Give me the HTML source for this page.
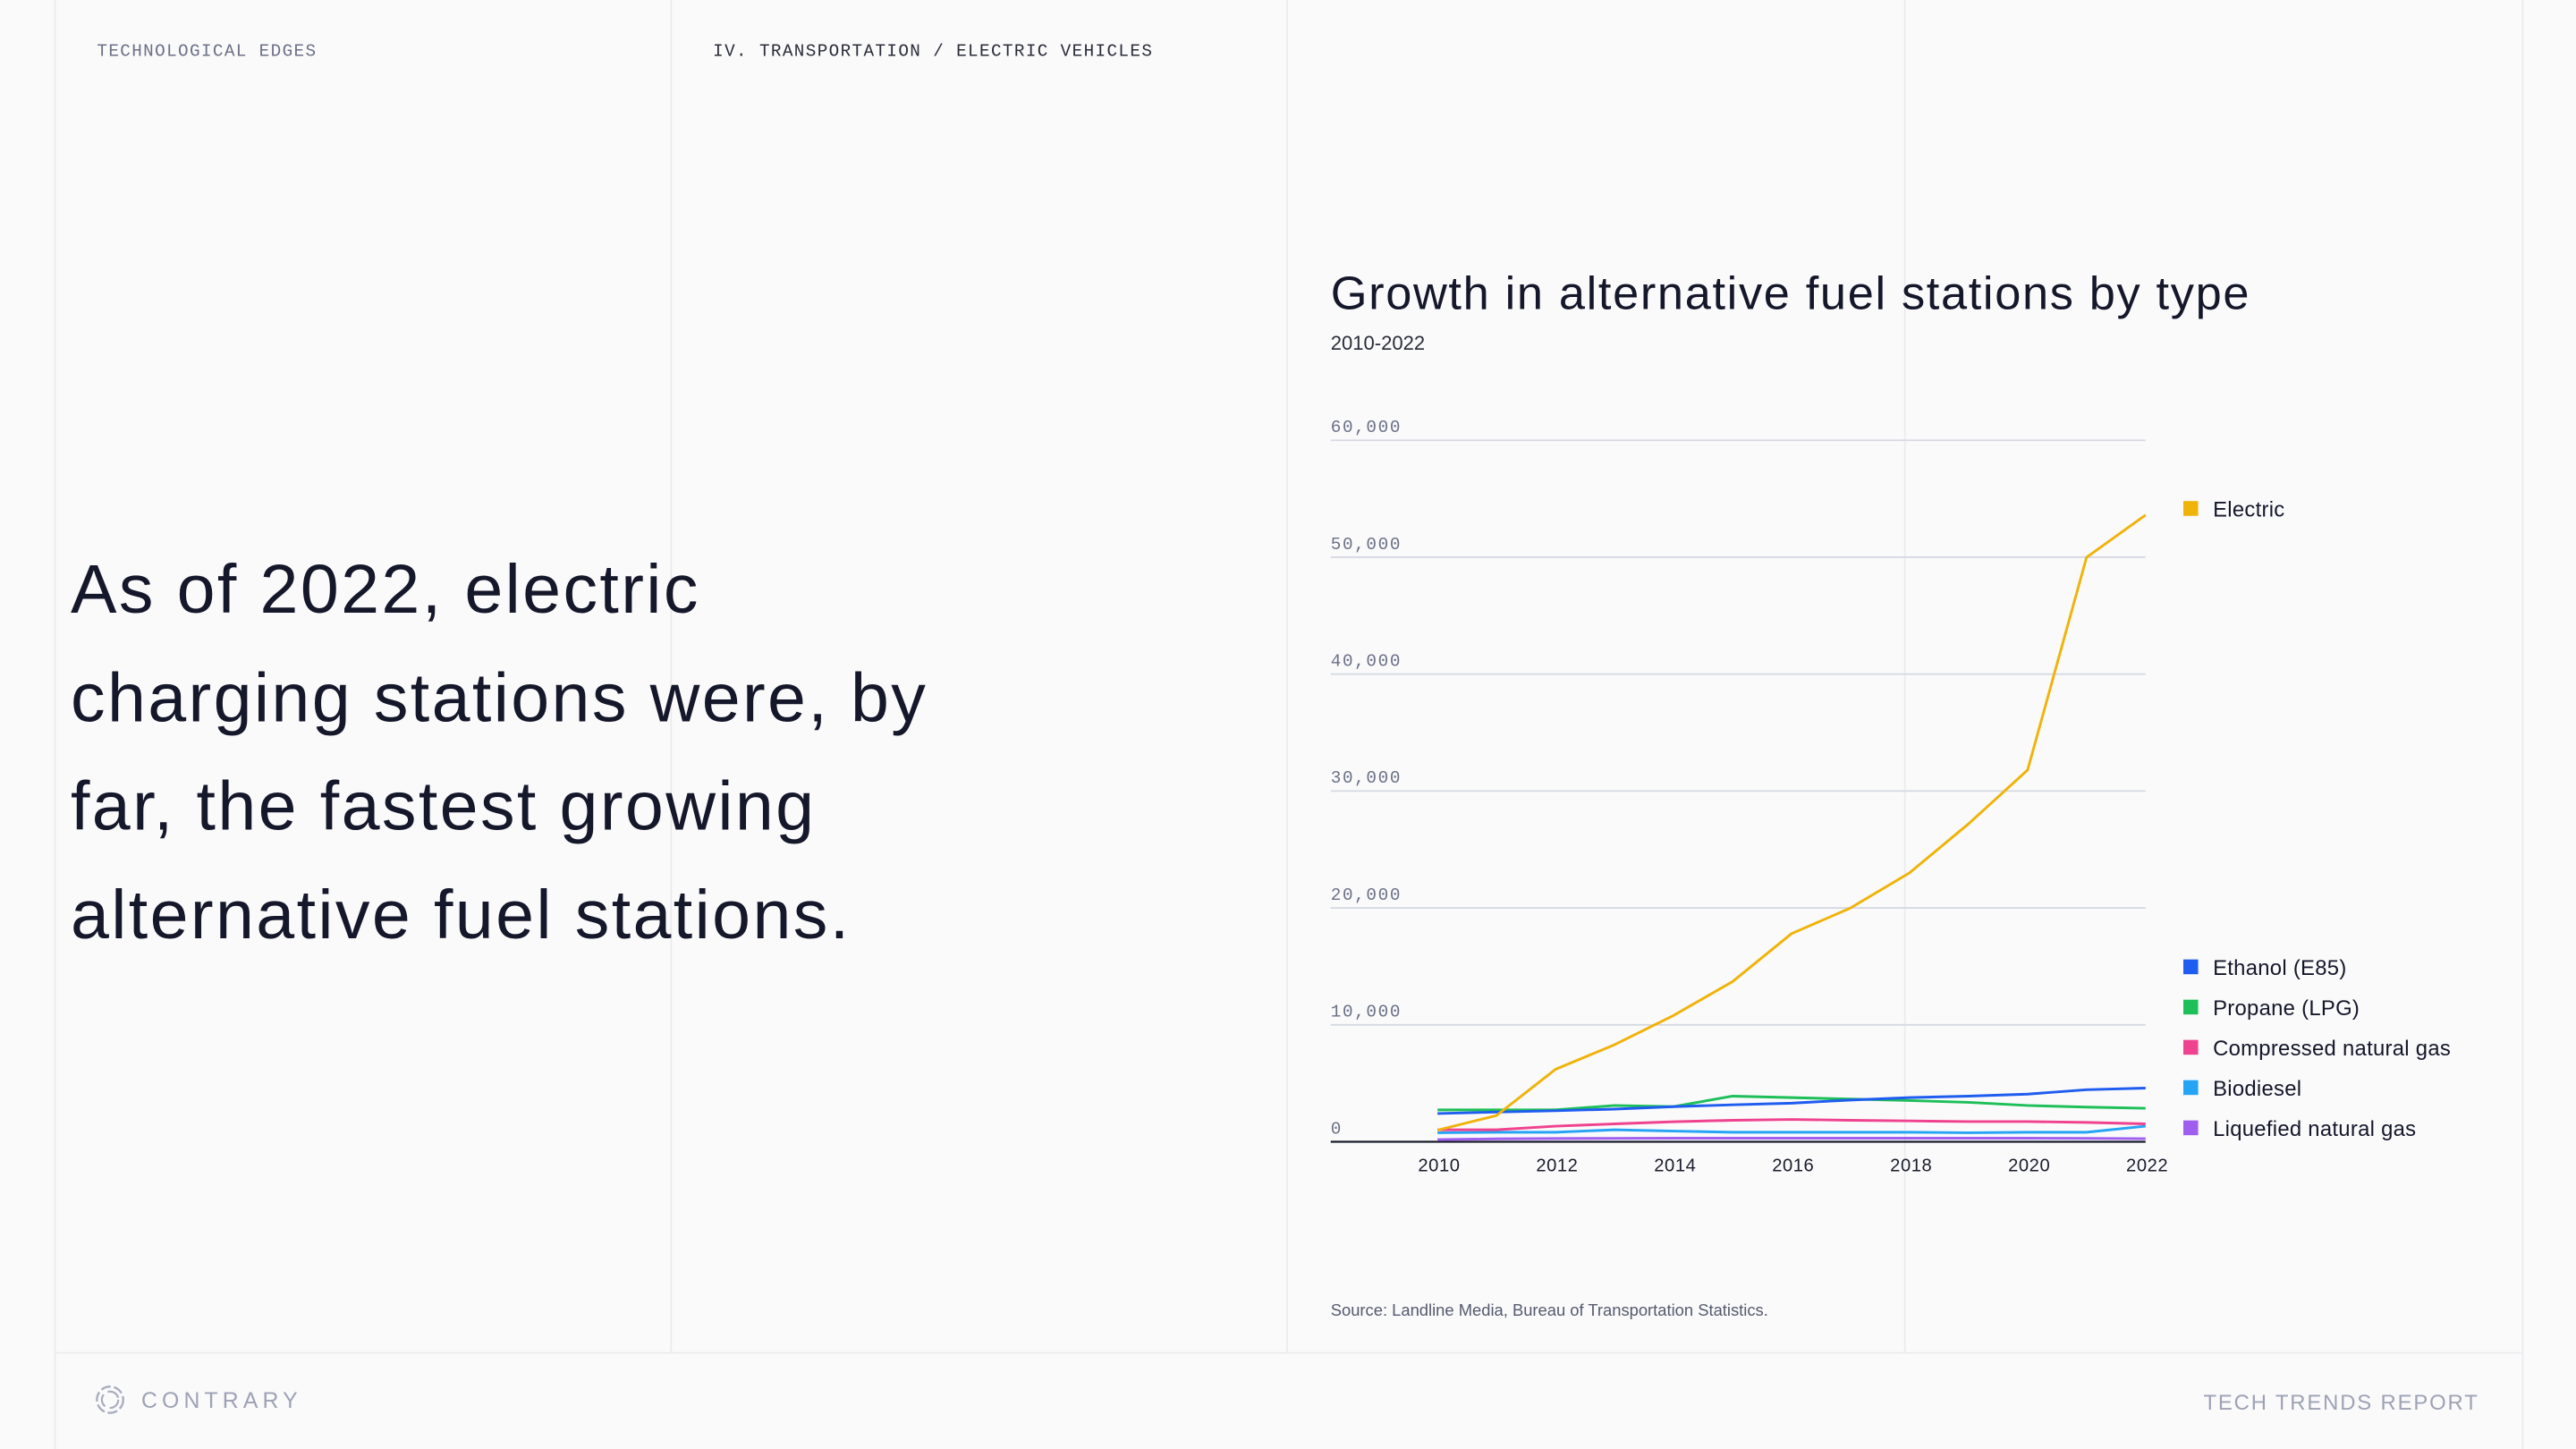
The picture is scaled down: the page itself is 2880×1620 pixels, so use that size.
<!DOCTYPE html>
<html><head><meta charset="utf-8"><style>
html,body{margin:0;padding:0;background:#fafafb;}
body{width:2880px;height:1620px;overflow:hidden;position:relative;}
#stage{position:absolute;left:0;top:0;width:1568px;height:882px;transform:scale(1.836735);transform-origin:0 0;font-family:"Liberation Sans",sans-serif;color:#1a1c2b;}
.vl{position:absolute;top:0;width:1px;height:823px;background:#ececf0;}
.mono{font-family:"Liberation Mono",monospace;font-size:10.5px;letter-spacing:0.75px;position:absolute;top:26px;}
</style></head><body>
<div id="stage">
<div class="vl" style="left:33px;height:882px"></div>
<div class="vl" style="left:408px"></div>
<div class="vl" style="left:783px"></div>
<div class="vl" style="left:1159px"></div>
<div class="vl" style="left:1535px;height:882px"></div>
<div style="position:absolute;left:33px;top:823px;width:1503px;height:1px;background:#ececf0"></div>
<div class="mono" style="left:59px;color:#6b7085">TECHNOLOGICAL EDGES</div>
<div class="mono" style="left:434px;color:#2a2c38">IV. TRANSPORTATION / ELECTRIC VEHICLES</div>
<div style="position:absolute;left:43px;top:326px;font-size:42px;line-height:66px;width:620px;color:#15172a;white-space:nowrap;letter-spacing:1.3px">As of 2022, electric<br>charging stations were, by<br>far, the fastest growing<br>alternative fuel stations.</div>
<div style="position:absolute;left:810px;top:163px;font-size:28.5px;letter-spacing:0.9px;color:#15172a;white-space:nowrap">Growth in alternative fuel stations by type</div>
<div style="position:absolute;left:810px;top:202px;font-size:12px;color:#2a2c38">2010-2022</div>
<div style="position:absolute;left:810px;top:793px;font-size:10px;color:#555a6c">Source: Landline Media, Bureau of Transportation Statistics.</div>
<svg style="position:absolute;left:0;top:0" width="1568" height="882" id="chart"></svg>
<svg style="position:absolute;left:57px;top:842px" width="20" height="20"><circle cx="10" cy="10" r="8" fill="none" stroke="#a9adbd" stroke-width="1.3" stroke-dasharray="6 2"/><circle cx="10" cy="10" r="5" fill="none" stroke="#a9adbd" stroke-width="1.2" stroke-dasharray="8 3"/></svg>
<div style="position:absolute;left:86px;top:845px;font-size:13.5px;letter-spacing:2.8px;color:#9ea2b4">CONTRARY</div>
<div style="position:absolute;right:59px;top:846px;font-size:13px;letter-spacing:1px;color:#9ea2b4">TECH TRENDS REPORT</div>
</div>
<script>
const years=[2010,2011,2012,2013,2014,2015,2016,2017,2018,2019,2020,2021,2022];
const electric=[1000,2250,6200,8300,10800,13700,17800,20000,23000,27200,31800,50000,53600];
const ethanol=[2420,2550,2650,2800,3000,3160,3300,3570,3780,3900,4080,4460,4590];
const propane=[2730,2730,2730,3110,3010,3900,3780,3650,3520,3370,3110,2960,2860];
const cng=[1020,1020,1330,1530,1710,1840,1910,1840,1790,1730,1730,1660,1530];
const biodiesel=[770,820,820,1020,920,820,820,820,820,770,820,820,1330];
const lng=[180,250,280,300,310,310,310,310,310,310,310,290,260];
const seriesNames=["Electric","Ethanol (E85)","Propane (LPG)","Compressed natural gas","Biodiesel","Liquefied natural gas"];
const yTicks=[0,10000,20000,30000,40000,50000,60000];
const yTickLabels=["0","10,000","20,000","30,000","40,000","50,000","60,000"];
const xTicks=[2010,2012,2014,2016,2018,2020,2022];
const NS="http://www.w3.org/2000/svg";
const svg=document.getElementById('chart');
function X(y){return 875+(y-2010)*(1306-875)/12;}
function Y(v){return 695-v*(695-268)/60000;}
function mk(t,a){const e=document.createElementNS(NS,t);for(const k in a)e.setAttribute(k,a[k]);svg.appendChild(e);return e;}
yTicks.forEach((t,i)=>{
 if(t>0){const g=mk('line',{x1:810,x2:1306,y1:Y(t),y2:Y(t),stroke:'#d6d9e2','stroke-width':1});
 
 }
 const l=mk('text',{x:810,y:Y(t)-5,'font-size':10.5,'letter-spacing':0.9,fill:'#6b7085','font-family':'Liberation Mono, monospace'});
 l.textContent=yTickLabels[i];
 
 
});
const ax=mk('line',{x1:810,x2:1306,y1:695,y2:695,stroke:'#1a1c2b','stroke-width':1.2});


xTicks.forEach(t=>{
 const l=mk('text',{x:X(t)+1,y:713,'font-size':11,'letter-spacing':0.3,fill:'#1a1c2b','text-anchor':'middle','font-family':'Liberation Sans, sans-serif'});
 l.textContent=t;
 
 
});
const all=[electric,ethanol,propane,cng,biodiesel,lng];
const colors=['#f0b30a','#1f5cf0','#1dbf58','#f0438f','#25a4f5','#a05ef0'];
for(let s=all.length-1;s>=0;s--){
 const d=all[s].map((v,i)=>(i?'L':'M')+X(years[i]).toFixed(1)+','+Y(v).toFixed(1)).join(' ');
 const p=mk('path',{d:d,fill:'none',stroke:colors[s],'stroke-width':1.6,'stroke-linejoin':'round'});
 
 
}
const legY=[310,589,613.5,638,662.5,687];
seriesNames.forEach((n,i)=>{
 const r=mk('rect',{x:1329,y:legY[i]-5,width:9,height:9,fill:colors[i]});
 
 
 const t=mk('text',{x:1347,y:legY[i]+4.5,'font-size':13,'letter-spacing':0.15,fill:'#15172a','font-family':'Liberation Sans, sans-serif'});
 t.textContent=n;
 
 
});
</script>
</body></html>
